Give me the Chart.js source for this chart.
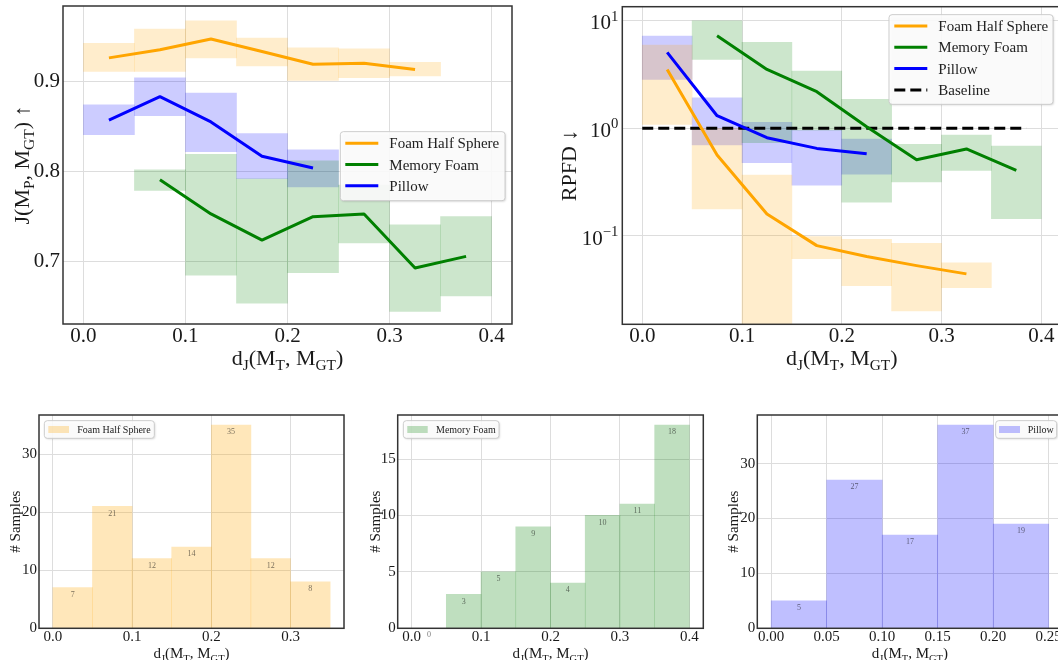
<!DOCTYPE html>
<html lang="en">
<head>
<meta charset="UTF-8">
<title>Shape metrics vs d_J</title>
<script src="https://cdn.jsdelivr.net/npm/chart.js@4.4.1/dist/chart.umd.min.js"></script>
<style>
  html, body { margin: 0; padding: 0; background: #fff; width: 1058px; height: 660px; overflow: hidden; }
  .box { position: absolute; }
</style>
</head>
<body>
<div class="box" style="left:0;top:0;width:520px;height:372px"><canvas id="chartJ"></canvas></div>
<div class="box" style="left:540px;top:0;width:530px;height:372px"><canvas id="chartR"></canvas></div>
<div class="box" style="left:0;top:400px;width:360px;height:260px"><canvas id="histFoam"></canvas></div>
<div class="box" style="left:350px;top:400px;width:360px;height:260px"><canvas id="histMemory"></canvas></div>
<div class="box" style="left:700px;top:400px;width:370px;height:260px"><canvas id="histPillow"></canvas></div>
<script>
// bin centres, bins of width 0.05 in d_J(M_T, M_GT)
const binsFoam = [0.025, 0.075, 0.125, 0.175, 0.225, 0.275, 0.325];
const binsMemory = [0.075, 0.125, 0.175, 0.225, 0.275, 0.325, 0.375];
const binsPillow = [0.025, 0.075, 0.125, 0.175, 0.225];
const binsMemoryHist = [0.025, 0.075, 0.125, 0.175, 0.225, 0.275, 0.325, 0.375];

// J(M_P, M_GT): mean and shaded band per bin
const jFoam = [0.926, 0.935, 0.947, 0.933, 0.919, 0.920, 0.913];
const jFoamLow = [0.911, 0.911, 0.926, 0.917, 0.901, 0.904, 0.906];
const jFoamHigh = [0.942, 0.958, 0.967, 0.948, 0.937, 0.936, 0.921];
const jMemory = [0.791, 0.753, 0.724, 0.750, 0.753, 0.693, 0.706];
const jMemoryLow = [0.779, 0.685, 0.654, 0.688, 0.721, 0.645, 0.662];
const jMemoryHigh = [0.802, 0.819, 0.792, 0.812, 0.785, 0.741, 0.750];
const jPillow = [0.857, 0.883, 0.855, 0.817, 0.804];
const jPillowLow = [0.841, 0.862, 0.822, 0.792, 0.783];
const jPillowHigh = [0.874, 0.904, 0.887, 0.842, 0.824];

// RPFD (log axis): mean and shaded band per bin
const rFoam = [3.53, 0.565, 0.16, 0.0813, 0.0643, 0.053, 0.0444];
const rFoamLow = [1.09, 0.178, 0.005, 0.0615, 0.0346, 0.0201, 0.0331];
const rFoamHigh = [5.94, 1.0, 0.368, 0.0986, 0.093, 0.0855, 0.0562];
const rMemory = [7.24, 3.53, 2.19, 1.035, 0.511, 0.643, 0.407];
const rMemoryLow = [4.37, 0.734, 0.96, 0.206, 0.317, 0.407, 0.145];
const rMemoryHigh = [10.0, 6.29, 3.40, 1.86, 0.71, 0.867, 0.685];
const rPillow = [5.08, 1.31, 0.818, 0.651, 0.581];
const rPillowLow = [2.85, 0.70, 0.48, 0.297, 0.376];
const rPillowHigh = [7.19, 1.92, 1.14, 0.96, 0.796];
const baselineX = [0, 0.385];
const baselineY = [1, 1];

// sample counts per bin
const countFoam = [7, 21, 12, 14, 35, 12, 8];
const countMemory = [0, 3, 5, 9, 4, 10, 11, 18];
const countPillow = [5, 27, 17, 37, 19];

// ticks
const topTicksX = [0, 0.1, 0.2, 0.3, 0.4];
const jTicksY = [0.7, 0.8, 0.9];
const rTicksY = [0.1, 1, 10];
const rTickLabels = ['10^{\u22121}', '10^{0}', '10^{1}'];
const foamTicksX = [0, 0.1, 0.2, 0.3];
const foamTicksY = [0, 10, 20, 30];
const memoryTicksX = [0, 0.1, 0.2, 0.3, 0.4];
const memoryTicksY = [0, 5, 10, 15];
const pillowTicksX = [0, 0.05, 0.1, 0.15, 0.2, 0.25];
const pillowTicksY = [0, 10, 20, 30];

const SERIF = '"Liberation Serif", "Times New Roman", serif';
const INK = '#1a1a1a';
const GRID = '#dddddd';
const ORANGE = '#ffa500', GREEN = '#008000', BLUE = '#0000ff';

// split "M_{GT}" / "10^{1}" into [text, shift] parts
function richParts(str) {
    const parts = [];
    const re = /([_^])\{([^}]*)\}/g;
    let last = 0, m;
    while ((m = re.exec(str))) {
        if (m.index > last) parts.push([str.slice(last, m.index), 0]);
        parts.push([m[2], m[1] === '_' ? -1 : 1]);
        last = re.lastIndex;
    }
    if (last < str.length) parts.push([str.slice(last), 0]);
    return parts;
}

function drawRich(ctx, str, x, y, size, align, rotate, color) {
    const parts = richParts(str);
    const small = size * 0.7;
    let w = 0;
    const widths = parts.map(p => {
        ctx.font = (p[1] ? small : size) + 'px ' + SERIF;
        const pw = ctx.measureText(p[0]).width;
        w += pw;
        return pw;
    });
    ctx.save();
    ctx.translate(x, y);
    if (rotate) ctx.rotate(-Math.PI / 2);
    let cx = align === 'right' ? -w : (align === 'left' ? 0 : -w / 2);
    ctx.textAlign = 'left';
    ctx.textBaseline = 'alphabetic';
    ctx.fillStyle = color || INK;
    const base = size * 0.338;
    parts.forEach((p, i) => {
        ctx.font = (p[1] ? small : size) + 'px ' + SERIF;
        const dy = p[1] === -1 ? size * 0.22 : (p[1] === 1 ? -size * 0.42 : 0);
        ctx.fillText(p[0], cx, base + dy);
        cx += widths[i];
    });
    ctx.restore();
}

function roundBox(ctx, x, y, w, h, r) {
    ctx.beginPath();
    ctx.moveTo(x + r, y);
    ctx.lineTo(x + w - r, y);
    ctx.arcTo(x + w, y, x + w, y + r, r);
    ctx.lineTo(x + w, y + h - r);
    ctx.arcTo(x + w, y + h, x + w - r, y + h, r);
    ctx.lineTo(x + r, y + h);
    ctx.arcTo(x, y + h, x, y + h - r, r);
    ctx.lineTo(x, y + r);
    ctx.arcTo(x, y, x + r, y, r);
    ctx.closePath();
}

function drawLegend(chart, L) {
    const ctx = chart.ctx, a = chart.chartArea;
    const x = a.left + L.x, y = a.top + L.y;
    ctx.save();
    ctx.shadowColor = 'rgba(0,0,0,0.18)';
    ctx.shadowOffsetX = 1;
    ctx.shadowOffsetY = 1;
    ctx.shadowBlur = 2;
    roundBox(ctx, x, y, L.w, L.h, 3);
    ctx.fillStyle = 'rgba(255,255,255,0.88)';
    ctx.fill();
    ctx.shadowColor = 'transparent';
    ctx.strokeStyle = '#cccccc';
    ctx.lineWidth = 1;
    ctx.stroke();
    const items = chart.data.datasets.filter(d => d.label);
    items.forEach((d, i) => {
        const cy = y + L.row0 + i * L.rowH;
        if (d.type === 'line') {
            ctx.beginPath();
            ctx.setLineDash(d.borderDash || []);
            ctx.strokeStyle = d.borderColor;
            ctx.lineWidth = d.borderWidth;
            ctx.moveTo(x + L.sample[0], cy);
            ctx.lineTo(x + L.sample[1], cy);
            ctx.stroke();
            ctx.setLineDash([]);
        } else {
            ctx.fillStyle = d.backgroundColor;
            ctx.fillRect(x + L.sample[0], cy - L.patchH / 2, L.sample[1] - L.sample[0], L.patchH);
        }
        drawRich(ctx, d.label, x + L.textX, cy, L.size, 'left', false, '#222');
    });
    ctx.restore();
}

const deco = {
    id: 'deco',
    afterDatasetsDraw(chart, args, o) {
        if (!o.counts) return;
        const ctx = chart.ctx;
        const meta = chart.getDatasetMeta(0);
        ctx.save();
        ctx.font = o.counts.size + 'px ' + SERIF;
        ctx.fillStyle = o.counts.color;
        ctx.textAlign = 'center';
        ctx.textBaseline = 'middle';
        meta.data.forEach((bar, i) => {
            ctx.fillText(String(chart.data.datasets[0].data[i].y), bar.x, bar.y + o.counts.dy);
        });
        ctx.restore();
    },
    afterDraw(chart, args, o) {
        const ctx = chart.ctx, a = chart.chartArea;
        ctx.save();
        ctx.strokeStyle = '#333';
        ctx.lineWidth = 1.5;
        ctx.strokeRect(a.left, a.top, a.right - a.left, a.bottom - a.top);
        ctx.restore();
        if (o.yLog) {
            const ys = chart.scales.y;
            o.yLog.values.forEach((v, i) => {
                drawRich(ctx, o.yLog.labels[i], a.left - o.yLog.pad, ys.getPixelForValue(v) + 1.5, o.yLog.size, 'right', false);
            });
        }
        drawRich(ctx, o.xTitle.text, (a.left + a.right) / 2, o.xTitle.y, o.xTitle.size, 'center', false);
        drawRich(ctx, o.yTitle.text, o.yTitle.x, (a.top + a.bottom) / 2, o.yTitle.size, 'center', true);
        if (o.legend) drawLegend(chart, o.legend);
    }
};

function band(xs, lo, hi, color) {
    return {
        type: 'bar',
        data: xs.map((x, i) => ({ x: x, y: [lo[i], hi[i]] })),
        backgroundColor: color,
        borderWidth: 0,
        barPercentage: 1,
        categoryPercentage: 1,
        grouped: false,
        order: 2,
        clip: 0
    };
}

function curve(label, xs, ys, color, extra) {
    return Object.assign({
        type: 'line',
        label: label,
        data: xs.map((x, i) => ({ x: x, y: ys[i] })),
        borderColor: color,
        backgroundColor: color,
        borderWidth: 3,
        borderJoinStyle: 'round',
        pointRadius: 0,
        tension: 0,
        fill: false,
        order: 0,
        clip: 0
    }, extra || {});
}

function axis(opts) {
    return {
        type: opts.type || 'linear',
        min: opts.min,
        max: opts.max,
        offset: false,
        grid: { color: GRID, lineWidth: 1, drawTicks: false, offset: false },
        border: { display: false },
        afterBuildTicks: s => { s.ticks = opts.ticks.map(v => ({ value: v })); },
        afterFit: s => {
            if (opts.width) s.width = opts.width;
            if (opts.height) s.height = opts.height;
            // the layout padding already leaves room for the labels
            s.paddingTop = s.paddingBottom = s.paddingLeft = s.paddingRight = 0;
        },
        ticks: {
            display: opts.showLabels !== false,
            padding: opts.pad,
            color: INK,
            autoSkip: false,
            maxRotation: 0,
            font: { family: SERIF, size: opts.size },
            callback: v => Number(v).toFixed(opts.digits)
        }
    };
}

function baseOptions(padding, x, y, decoOpts) {
    return {
        responsive: true,
        maintainAspectRatio: false,
        animation: false,
        layout: { padding: padding },
        scales: { x: x, y: y },
        plugins: { legend: { display: false }, tooltip: { enabled: false }, deco: decoOpts }
    };
}

Chart.register(deco);

// J(M_P, M_GT) vs d_J
new Chart(document.getElementById('chartJ'), {
    type: 'bar',
    data: {
        datasets: [
            curve('Foam Half Sphere', binsFoam, jFoam, ORANGE),
            curve('Memory Foam', binsMemory, jMemory, GREEN),
            curve('Pillow', binsPillow, jPillow, BLUE),
            band(binsFoam, jFoamLow, jFoamHigh, 'rgba(255,165,0,0.2)'),
            band(binsMemory, jMemoryLow, jMemoryHigh, 'rgba(0,128,0,0.2)'),
            band(binsPillow, jPillowLow, jPillowHigh, 'rgba(0,0,255,0.2)')
        ]
    },
    options: baseOptions(
        { top: 6, right: 8, bottom: 0, left: 0 },
        axis({ min: -0.02, max: 0.42, ticks: topTicksX, digits: 1, size: 21, pad: 0, height: 48 }),
        axis({ min: 0.631, max: 0.9835, ticks: jTicksY, digits: 1, size: 21, pad: 3, width: 63 }),
        {
            xTitle: { text: 'd_{J}(M_{T}, M_{GT})', y: 358, size: 22 },
            yTitle: { text: 'J(M_{P}, M_{GT}) \u2191', x: 22, size: 22 },
            legend: { x: 277.3, y: 125.7, w: 164.7, h: 69, row0: 11.6, rowH: 21.2, sample: [5, 38], textX: 49, size: 15 }
        }
    )
});

// RPFD vs d_J (log scale)
new Chart(document.getElementById('chartR'), {
    type: 'bar',
    data: {
        datasets: [
            curve('Foam Half Sphere', binsFoam, rFoam, ORANGE),
            curve('Memory Foam', binsMemory, rMemory, GREEN),
            curve('Pillow', binsPillow, rPillow, BLUE),
            curve('Baseline', baselineX, baselineY, '#000000', { borderDash: [11, 5], borderJoinStyle: 'miter' }),
            band(binsFoam, rFoamLow, rFoamHigh, 'rgba(255,165,0,0.2)'),
            band(binsMemory, rMemoryLow, rMemoryHigh, 'rgba(0,128,0,0.2)'),
            band(binsPillow, rPillowLow, rPillowHigh, 'rgba(0,0,255,0.2)')
        ]
    },
    options: baseOptions(
        { top: 6.7, right: 8.8, bottom: 0, left: 0 },
        axis({ min: -0.02, max: 0.42, ticks: topTicksX, digits: 1, size: 21, pad: 0, height: 47.7 }),
        axis({ type: 'logarithmic', min: 0.0151, max: 13.5, ticks: rTicksY, digits: 1, size: 21, pad: 4, width: 82.3, showLabels: false }),
        {
            yLog: { values: rTicksY, labels: rTickLabels, size: 21, pad: 4 },
            xTitle: { text: 'd_{J}(M_{T}, M_{GT})', y: 358, size: 22 },
            yTitle: { text: 'RPFD \u2193', x: 28.3, size: 22 },
            legend: { x: 266.7, y: 8, w: 164, h: 89.6, row0: 11.3, rowH: 21.3, sample: [5.3, 38.3], textX: 49.3, size: 15 }
        }
    )
});

function histogram(id, label, xs, counts, color, ticksX, ticksY, xr, yMax, xDigits, padding, yWidth, yTitleX, legend) {
    return new Chart(document.getElementById(id), {
        type: 'bar',
        data: {
            datasets: [{
                type: 'bar',
                label: label,
                data: xs.map((x, i) => ({ x: x, y: counts[i] })),
                backgroundColor: color,
                borderWidth: 0,
                barPercentage: 1,
                categoryPercentage: 1,
                grouped: false,
                clip: 0
            }]
        },
        options: baseOptions(
            padding,
            axis({ min: xr[0], max: xr[1], ticks: ticksX, digits: xDigits, size: 15, pad: 0, height: 31.7 }),
            axis({ min: 0, max: yMax, ticks: ticksY, digits: 0, size: 15, pad: 2, width: yWidth }),
            {
                counts: { size: 8, color: 'rgba(0,0,0,0.55)', dy: 7 },
                xTitle: { text: 'd_{J}(M_{T}, M_{GT})', y: 253.3, size: 15 },
                yTitle: { text: '# Samples', x: yTitleX, size: 15 },
                legend: legend
            }
        )
    });
}

histogram('histFoam', 'Foam Half Sphere', binsFoam, countFoam, 'rgba(255,165,0,0.27)',
    foamTicksX, foamTicksY, [-0.0175, 0.3675], 36.75, 1,
    { top: 15, right: 16, bottom: 0, left: 0 }, 39, 15,
    { x: 5.3, y: 5.7, w: 110, h: 17.6, row0: 8.8, rowH: 0, sample: [4, 24.7], patchH: 7, textX: 33, size: 10 });

histogram('histMemory', 'Memory Foam', binsMemoryHist, countMemory, 'rgba(0,128,0,0.25)',
    memoryTicksX, memoryTicksY, [-0.02, 0.42], 18.9, 1,
    { top: 15, right: 6.7, bottom: 0, left: 0 }, 47.7, 25,
    { x: 5.6, y: 5.7, w: 95.7, h: 17.6, row0: 8.8, rowH: 0, sample: [4, 24.4], patchH: 7, textX: 32.7, size: 10 });

histogram('histPillow', 'Pillow', binsPillow, countPillow, 'rgba(0,0,255,0.25)',
    pillowTicksX, pillowTicksY, [-0.0125, 0.2625], 38.85, 2,
    { top: 15, right: 7.4, bottom: 0, left: 0 }, 57.3, 33.3,
    { x: 238.4, y: 5.7, w: 61, h: 17.6, row0: 8.8, rowH: 0, sample: [3.3, 24.3], patchH: 7, textX: 32, size: 10 });
</script>
</body>
</html>
